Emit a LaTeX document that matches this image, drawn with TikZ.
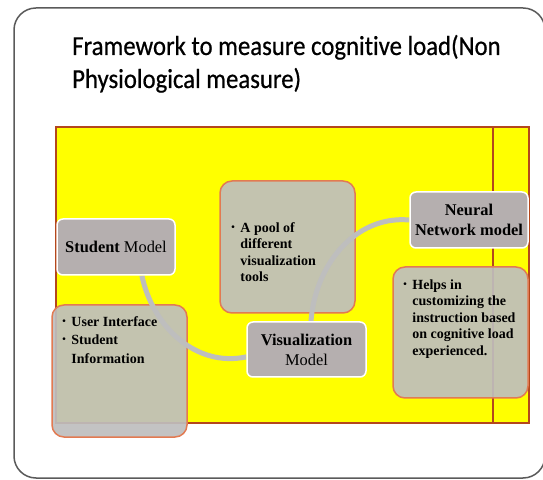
\documentclass[tikz,border=0pt]{standalone}
\usepackage{fontspec}
\setmainfont{Liberation Serif}
\newfontfamily\titlefont[FakeStretch=0.9, FakeBold=0.6, Ligatures=NoCommon]{Carlito}
\usetikzlibrary{positioning}
\definecolor{framegray}{HTML}{5A5A5A}
\definecolor{slideyellow}{HTML}{FFFF00}
\definecolor{rimbrown}{HTML}{B4471C}
\definecolor{rimorange}{HTML}{E27A52}
\definecolor{notegray}{RGB}{190,190,190}
\definecolor{headgray}{HTML}{B5AFAF}
\definecolor{linkgray}{RGB}{190,190,190}
\pgfdeclarelayer{back}
\pgfdeclarelayer{links}
\pgfsetlayers{back,links,main}
\newcommand{\bul}{\makebox[9pt][l]{\raisebox{2pt}{\fontsize{10}{10}\selectfont\textbullet}}}
\newcommand{\nobul}{\makebox[9pt]{}}

\begin{document}
\begin{tikzpicture}[x=1pt, y=1pt,
  head/.style={draw=white, line width=1.5pt, fill=headgray, rounded corners=6pt,
    minimum width=118pt, minimum height=56pt, align=center, inner sep=2pt,
    font=\fontsize{16.4}{20}\selectfont},
  note/.style={draw=rimorange, line width=1.5pt, fill=notegray, fill opacity=0.92,
    rounded corners=12pt, minimum width=135pt, minimum height=132pt},
  notetext/.style={anchor=base west, inner sep=0pt, font=\fontsize{14}{16.5}\selectfont\bfseries},
  link/.style={draw=linkgray, line width=5pt}]
  \useasboundingbox (0,0) rectangle (543,479);

  % slide frame and heading
  \draw[framegray, line width=1.5pt, rounded corners=22pt] (14,1) rectangle (545,471);
  \node[anchor=base west, inner sep=0pt, font=\titlefont\fontsize{27.5}{33}\selectfont] (title) at (72,424)
    {\begin{tabular}[t]{@{}l@{}}Framework to measure cognitive load(Non\\Physiological measure)\end{tabular}};

  % yellow panel with the detail notes
  \begin{pgfonlayer}{back}
    \draw[rimbrown, line width=1.2pt, fill=slideyellow] (56,56) rectangle (529,352);
    \draw[rimbrown, line width=1.2pt] (493,56) -- (493,352);
    \node[note] (pool) at (287.5,232) {};
    \node[note] (studentinfo) at (119.5,108) {};
    \node[note, minimum height=131pt] (helps) at (460.5,146.5) {};
  \end{pgfonlayer}

  \node[notetext] (pooltext) at ([shift={(12,-52)}]pool.north west)
    {\begin{tabular}[t]{@{}l@{}}\bul A pool of\\\nobul different\\\nobul visualization\\\nobul tools\end{tabular}};
  \node[notetext, font=\fontsize{14}{18.5}\selectfont\bfseries] (studenttext) at ([shift={(11,-22)}]studentinfo.north west)
    {\begin{tabular}[t]{@{}l@{}}\bul User Interface\\\bul Student\\\nobul Information\end{tabular}};
  \node[notetext] (helpstext) at ([shift={(11,-23)}]helps.north west)
    {\begin{tabular}[t]{@{}l@{}}\bul Helps in\\\nobul customizing the\\\nobul instruction based\\\nobul on cognitive load\\\nobul experienced.\end{tabular}};

  % model boxes
  \node[head] (studentmodel) at (116,232) {\textbf{Student} Model};
  \node[head, minimum width=119pt, minimum height=55pt] (vizmodel) at (306.5,129.5) {\textbf{Visualization}\\Model};
  \node[head] (neuralmodel) at (469,259) {\textbf{Neural}\\\textbf{Network model}};

  % curved links between the models
  \begin{pgfonlayer}{links}
    \draw[link] (studentmodel.-48) to[out=-78, in=192] (vizmodel.187);
    \draw[link] (vizmodel.81) to[out=86, in=175] (neuralmodel.west);
  \end{pgfonlayer}
\end{tikzpicture}
\end{document}
